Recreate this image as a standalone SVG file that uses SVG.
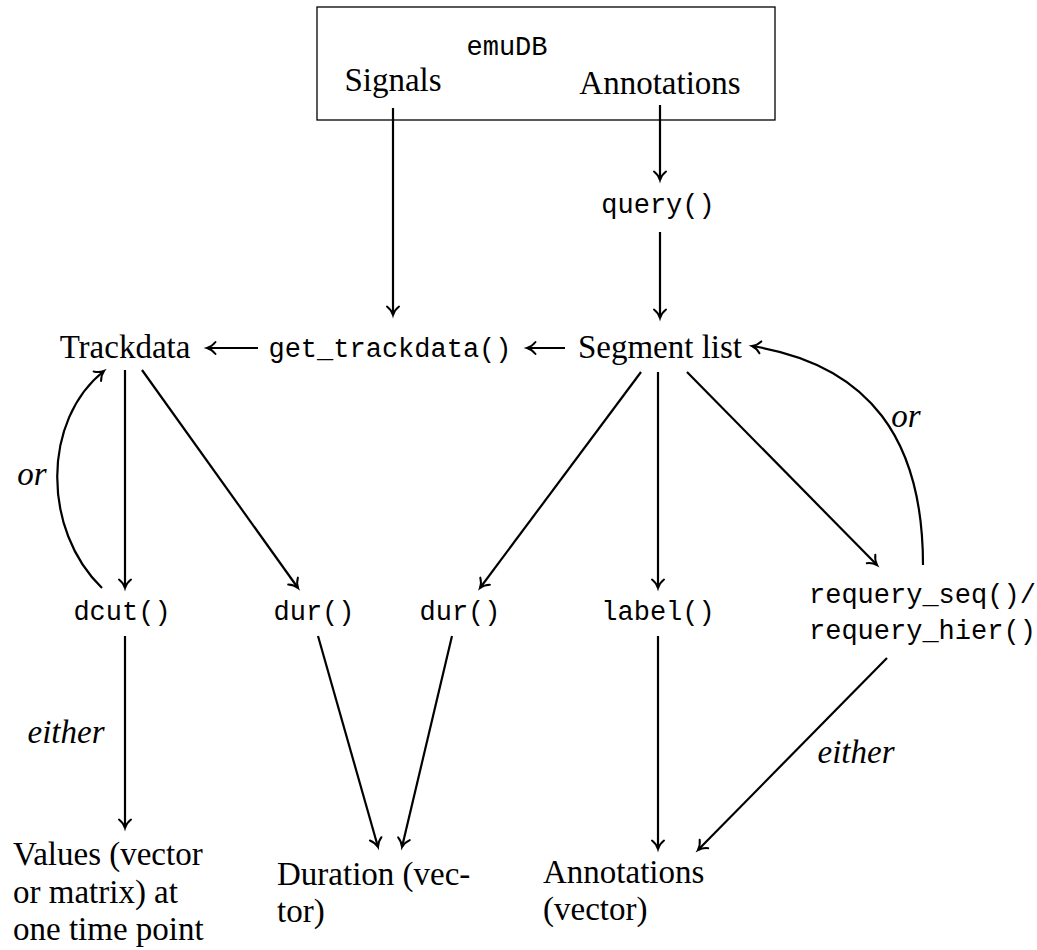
<svg xmlns="http://www.w3.org/2000/svg" width="1037" height="950" viewBox="0 0 1037 950">
<style>
.rm{font-family:"Liberation Serif","Times New Roman",serif;font-size:33px;fill:#000}
.it{font-family:"Liberation Serif","Times New Roman",serif;font-size:33px;font-style:italic;fill:#000}
.tt{font-family:"Liberation Mono","DejaVu Sans Mono",monospace;font-size:27px;fill:#000}
.c{text-anchor:middle}
.ln{fill:none;stroke:#000;stroke-width:2.2;marker-end:url(#ah)}
</style>
<defs>
<marker id="ah" viewBox="-10 -8 12 16" refX="0" refY="0" markerWidth="12" markerHeight="16" markerUnits="userSpaceOnUse" orient="auto" overflow="visible">
<path d="M -8.5 -6 C -5.5 -2.2 -2 -0.6 0 0 C -2 0.6 -5.5 2.2 -8.5 6" fill="none" stroke="#000" stroke-width="2" stroke-linecap="round"/>
</marker>
</defs>
<g id="emuDB">
<rect x="317" y="7" width="458" height="113" fill="none" stroke="#000" stroke-width="1.3"/>
<text class="tt c" x="507" y="55">emuDB</text>
<text class="rm c" x="393" y="91">Signals</text>
<text class="rm c" x="660" y="94">Annotations</text>
</g>
<g id="query"><text class="tt c" x="658" y="213">query()</text></g>
<g id="trackdata"><text class="rm c" x="125" y="358">Trackdata</text></g>
<g id="get_trackdata"><text class="tt c" x="390" y="357">get_trackdata()</text></g>
<g id="segment_list"><text class="rm c" x="660" y="358">Segment list</text></g>
<g id="dcut"><text class="tt c" x="122" y="620">dcut()</text></g>
<g id="dur1"><text class="tt c" x="314" y="620">dur()</text></g>
<g id="dur2"><text class="tt c" x="460" y="620">dur()</text></g>
<g id="label"><text class="tt c" x="658" y="620">label()</text></g>
<g id="requery">
<text class="tt" x="809" y="603">requery_seq()/</text>
<text class="tt" x="809" y="639">requery_hier()</text>
</g>
<g id="values">
<text class="rm" x="13" y="865">Values (vector</text>
<text class="rm" x="13" y="903">or matrix) at</text>
<text class="rm" x="13" y="940">one time point</text>
</g>
<g id="duration">
<text class="rm" x="277" y="885">Duration (vec-</text>
<text class="rm" x="277" y="922">tor)</text>
</g>
<g id="annotations_out">
<text class="rm" x="543" y="883">Annotations</text>
<text class="rm" x="543" y="920">(vector)</text>
</g>
<g id="connectors">
<line class="ln" x1="393" y1="108" x2="393" y2="315"/>
<line class="ln" x1="660" y1="105" x2="660" y2="180"/>
<line class="ln" x1="660" y1="232" x2="660" y2="318"/>
<line class="ln" x1="565" y1="348" x2="527" y2="348"/>
<line class="ln" x1="258" y1="348" x2="207" y2="348"/>
<line class="ln" x1="125" y1="370" x2="125" y2="588"/>
<line class="ln" x1="142" y1="370" x2="298" y2="588"/>
<line class="ln" x1="641" y1="372" x2="480" y2="588"/>
<line class="ln" x1="658" y1="372" x2="658" y2="588"/>
<line class="ln" x1="687" y1="372" x2="877" y2="565"/>
<path class="ln" d="M 923 565 C 923 440 870 365 752 346"/>
<path class="ln" d="M 102 588 C 42 530 42 420 104 371"/>
<line class="ln" x1="125" y1="636" x2="125" y2="828"/>
<line class="ln" x1="318" y1="636" x2="378" y2="847"/>
<line class="ln" x1="452" y1="636" x2="402" y2="847"/>
<line class="ln" x1="658" y1="636" x2="658" y2="849"/>
<line class="ln" x1="887" y1="658" x2="698" y2="850"/>
<text class="it c" x="906" y="427">or</text>
<text class="it c" x="32" y="485">or</text>
<text class="it c" x="66" y="743">either</text>
<text class="it c" x="856" y="763">either</text>
</g>
</svg>
